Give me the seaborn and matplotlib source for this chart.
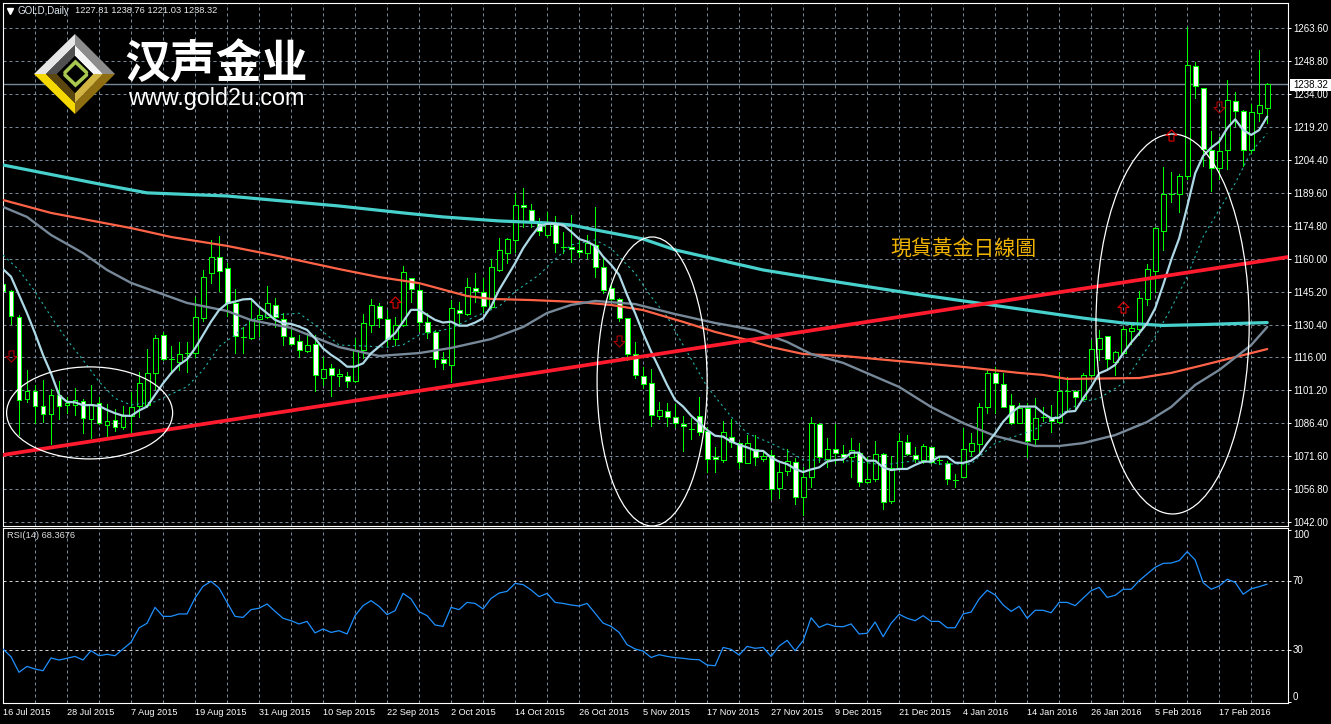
import numpy as np
import pandas as pd
import seaborn as sns
import matplotlib.pyplot as plt
from matplotlib.patches import Ellipse, Polygon, Rectangle

# Daily GOLD candles
opens = [
    1148.7,1145.4,1134.1,1097.3,1100.8,1094.1,1090.2,1099.1,1094.4,1094.6,
    1096.4,1088.0,1095.5,1085.6,1087.8,1084.7,1089.5,1094.1,1094.3,1108.6,
    1125.7,1115.1,1113.9,1117.6,1117.7,1133.6,1153.5,1160.8,1155.9,1140.3,
    1125.1,1124.6,1132.9,1134.1,1139.1,1133.2,1125.1,1123.3,1118.5,1121.6,
    1106.4,1110.9,1107.4,1107.6,1105.1,1119.0,1130.2,1138.7,1132.9,1124.2,
    1130.2,1151.3,1145.9,1131.8,1127.3,1114.9,1112.5,1137.2,1135.1,1146.8,
    1145.0,1138.3,1155.0,1162.8,1168.3,1184.0,1182.1,1176.7,1170.7,1175.7,
    1165.5,1165.5,1163.8,1162.8,1166.4,1156.2,1146.8,1141.9,1133.3,1117.5,
    1107.3,1104.2,1089.6,1091.6,1089.2,1085.9,1083.6,1089.3,1082.9,1070.9,
    1069.9,1080.2,1077.5,1068.5,1074.8,1070.3,1072.0,1057.3,1064.9,1068.7,
    1053.3,1062.2,1085.7,1070.3,1074.5,1072.3,1071.2,1072.9,1059.7,1061.1,
    1072.3,1051.5,1066.0,1078.0,1072.1,1069.7,1075.4,1069.7,1068.5,1060.8,
    1062.2,1073.6,1077.1,1093.7,1108.6,1103.7,1094.3,1086.5,1093.2,1079.0,
    1089.2,1088.4,1086.9,1100.8,1100.8,1097.3,1107.7,1119.4,1125.5,1113.9,
    1117.6,1127.8,1128.7,1141.8,1154.7,1172.7,1189.0,1189.0,1197.0,1246.4,
    1236.5,1208.7,1200.6,1208.7,1230.7,1226.2,1208.7,1225.3,1227.81]
highs = [
    1149.3,1146.0,1134.8,1110.1,1103.4,1105.6,1101.4,1105.2,1098.2,1102.0,
    1097.0,1103.4,1097.9,1094.7,1092.5,1094.0,1100.1,1109.2,1119.5,1125.7,
    1127.2,1120.9,1122.7,1122.8,1143.0,1155.0,1168.5,1170.3,1158.0,1146.3,
    1129.6,1141.1,1138.5,1147.8,1142.6,1135.6,1128.4,1125.8,1126.6,1125.8,
    1115.8,1112.8,1110.4,1109.1,1124.4,1135.3,1141.9,1140.1,1137.1,1134.1,
    1156.8,1151.3,1149.0,1135.6,1128.1,1118.4,1141.6,1140.8,1151.3,1153.5,
    1151.3,1160.1,1169.2,1169.2,1189.7,1191.7,1184.6,1178.2,1180.9,1179.0,
    1172.1,1179.6,1168.8,1170.7,1183.3,1160.3,1149.0,1142.3,1133.6,1122.6,
    1111.3,1110.4,1095.6,1095.2,1094.7,1089.5,1088.7,1098.2,1084.7,1075.7,
    1087.1,1088.1,1078.0,1080.8,1081.0,1074.2,1074.2,1068.5,1074.7,1070.5,
    1066.7,1089.2,1086.5,1079.5,1085.7,1076.3,1079.8,1077.4,1071.2,1078.1,
    1073.0,1071.5,1081.7,1081.0,1075.4,1076.9,1075.7,1071.5,1069.1,1063.3,
    1083.9,1082.0,1095.2,1110.1,1111.3,1108.6,1099.3,1095.2,1095.2,1097.4,
    1093.4,1094.4,1109.4,1107.1,1101.1,1108.9,1123.6,1128.1,1125.5,1118.6,
    1129.6,1130.3,1145.6,1157.7,1174.2,1201.4,1199.0,1198.1,1263.9,1248.2,
    1236.5,1217.4,1214.5,1240.3,1234.9,1226.8,1229.5,1253.7,1238.76]
lows = [
    1142.3,1130.6,1080.9,1095.9,1086.2,1086.8,1076.9,1088.3,1091.0,1089.8,
    1082.0,1079.8,1085.9,1080.6,1082.9,1083.5,1082.3,1089.2,1093.4,1101.4,
    1114.6,1109.4,1110.1,1109.4,1115.8,1132.3,1149.0,1145.7,1134.4,1117.6,
    1117.9,1123.9,1125.5,1133.3,1129.6,1121.3,1121.3,1115.8,1118.3,1100.8,
    1103.4,1098.5,1103.1,1102.4,1104.8,1115.4,1127.2,1129.3,1120.9,1121.4,
    1129.9,1140.4,1127.8,1124.4,1111.6,1110.7,1104.6,1130.3,1134.8,1140.8,
    1136.3,1137.8,1154.6,1158.0,1163.2,1174.2,1174.2,1170.7,1170.0,1163.2,
    1162.5,1158.6,1161.0,1160.2,1152.0,1144.5,1141.6,1132.1,1114.6,1106.4,
    1101.9,1085.2,1088.0,1085.0,1084.4,1073.8,1079.2,1081.1,1064.5,1064.5,
    1069.0,1075.7,1066.0,1068.5,1067.5,1069.4,1052.1,1052.7,1063.1,1050.0,
    1045.0,1057.8,1069.0,1066.4,1068.5,1069.0,1062.2,1058.2,1059.3,1060.3,
    1047.6,1050.6,1065.2,1072.0,1069.0,1068.5,1068.5,1067.9,1059.0,1057.6,
    1062.0,1071.5,1072.0,1090.7,1091.0,1093.4,1085.9,1086.2,1071.2,1076.9,
    1087.4,1082.4,1086.5,1092.2,1092.2,1096.7,1107.1,1114.6,1110.4,1107.9,
    1117.3,1121.8,1125.8,1139.3,1145.3,1164.0,1185.7,1181.2,1195.7,1232.2,
    1201.8,1190.5,1195.7,1200.5,1219.6,1201.8,1207.4,1222.0,1221.03]
closes = [
    1145.7,1134.4,1096.7,1100.8,1094.0,1090.2,1098.8,1094.0,1095.5,1096.8,
    1088.4,1095.0,1086.5,1087.4,1084.7,1089.5,1093.7,1104.1,1108.6,1124.3,
    1114.9,1115.1,1117.2,1117.6,1133.8,1151.7,1160.8,1154.7,1140.3,1125.2,
    1125.1,1133.2,1134.7,1140.0,1133.8,1125.4,1121.8,1119.1,1121.2,1107.7,
    1110.4,1107.7,1108.3,1105.1,1119.0,1131.1,1139.2,1133.3,1124.2,1130.2,
    1154.0,1146.3,1131.5,1127.0,1114.9,1113.1,1137.8,1135.6,1147.2,1145.4,
    1138.7,1156.2,1163.8,1168.8,1184.3,1183.1,1176.7,1172.4,1176.4,1167.0,
    1165.5,1164.3,1162.9,1167.0,1156.2,1145.9,1141.9,1133.3,1117.5,1107.7,
    1103.7,1089.8,1092.0,1089.2,1086.2,1084.8,1083.6,1082.4,1070.0,1070.2,
    1082.1,1078.0,1068.7,1077.4,1070.9,1071.7,1056.9,1064.2,1069.3,1053.3,
    1061.9,1086.2,1071.2,1074.5,1072.7,1071.2,1074.1,1059.7,1061.2,1072.3,
    1050.7,1066.1,1078.1,1072.3,1070.0,1076.0,1068.8,1069.7,1061.1,1060.8,
    1074.5,1077.2,1093.4,1108.6,1104.1,1093.7,1086.2,1093.2,1078.1,1088.4,
    1089.2,1087.1,1100.5,1100.8,1097.9,1107.7,1119.4,1124.6,1114.9,1118.0,
    1128.4,1128.8,1142.3,1155.3,1173.7,1189.1,1189.0,1197.0,1246.9,1237.7,
    1209.2,1200.6,1208.3,1231.1,1226.2,1208.7,1225.8,1228.9,1238.32]

# Fast moving average, one value per bar
ma_fast = [
    1155.4,1152.0,1143.8,1135.6,1126.6,1116.9,1108.6,1098.9,1095.8,1095.6,
    1094.3,1094.4,1094.0,1092.2,1090.7,1089.6,1089.5,1091.9,1093.7,1098.9,
    1104.1,1108.6,1112.4,1114.9,1119.8,1125.8,1131.8,1137.0,1140.0,1140.8,
    1141.8,1142.0,1138.5,1135.6,1132.6,1131.1,1130.8,1129.6,1128.1,1124.3,
    1119.8,1116.9,1114.6,1111.6,1111.6,1113.1,1117.6,1120.6,1123.6,1126.6,
    1131.8,1137.1,1137.1,1134.8,1132.6,1131.4,1131.8,1130.0,1130.0,1131.4,
    1133.3,1138.6,1146.0,1152.0,1158.0,1164.7,1170.0,1174.5,1175.7,1175.7,
    1175.2,1172.2,1168.9,1167.7,1165.8,1161.0,1157.3,1152.8,1143.8,1135.6,
    1126.6,1118.4,1110.9,1103.4,1096.7,1093.7,1089.6,1086.5,1083.2,1080.6,
    1080.2,1078.0,1076.5,1075.4,1073.9,1073.8,1070.8,1069.0,1067.9,1065.7,
    1064.3,1065.5,1066.4,1069.0,1069.7,1070.0,1073.0,1073.0,1069.4,1069.4,
    1066.4,1065.2,1065.7,1065.7,1067.5,1069.0,1069.0,1071.2,1071.2,1068.5,
    1068.4,1069.4,1072.0,1077.2,1081.7,1086.9,1090.7,1093.7,1093.7,1093.7,
    1090.7,1088.4,1088.7,1091.4,1091.7,1097.4,1102.6,1108.6,1110.1,1112.4,
    1117.6,1122.4,1126.6,1131.1,1137.8,1148.3,1159.5,1169.2,1183.4,1198.4,
    1206.2,1209.9,1212.6,1218.6,1222.6,1217.8,1215.6,1217.8,1223.8]

# Slower lines, read at the bars where they bend
cyan_bars = [0,12,18,28,42,50,55,62,68,71,74,80,84,95,105,114,121,127,135,140,145,150,158]
cyan_vals = [1202.1,1193.6,1189.6,1188.2,1183.7,1180.6,1178.8,1177.0,1176.1,1175.2,1173.0,
             1168.9,1164.0,1155.0,1149.2,1144.2,1140.6,1137.5,1133.4,1131.2,1130.1,1130.5,1131.4]
orange_bars = [0,6,12,16,21,28,35,42,47,52,58,61,66,72,76,80,85,89,93,96,100,105,112,120,
               127,130,133,142,146,150,154,158]
orange_vals = [1186.4,1180.6,1176.5,1173.8,1169.8,1165.8,1160.8,1155.4,1151.8,1149.1,1143.3,
               1142.0,1141.5,1140.6,1139.3,1137.0,1131.7,1127.2,1123.6,1120.4,1117.3,1116.4,
               1114.1,1111.5,1108.8,1107.9,1106.1,1106.5,1108.8,1112.3,1115.9,1119.5]
grey_bars = [0,3,6,10,13,16,23,28,31,36,42,47,52,56,61,65,68,71,74,79,84,89,94,98,101,105,
             112,116,120,124,127,129,132,135,139,143,146,149,152,156,158]
grey_vals = [1183.3,1178.8,1170.7,1162.6,1155.0,1149.2,1140.2,1136.6,1132.5,1129.0,1120.4,
             1116.4,1117.7,1120.0,1124.0,1129.4,1135.7,1139.3,1141.1,1139.7,1135.2,1131.2,
             1128.0,1122.7,1117.3,1113.3,1102.5,1093.5,1086.3,1080.5,1077.8,1076.0,1076.0,
             1077.3,1080.9,1086.8,1093.5,1103.4,1110.1,1121.3,1129.4]
dotted_bars = [0,2,4,6,8,10,12,14,16,19,21,23,25,27,29,31,33,37,39,42,45,48,50,52,56,59,62,
               64,67,69,71,74,76,79,81,83,85,88,91,93,96,99,100,104,107,110,114,117,121,122,
               124,127,129,131,135,137,140,142,144,146,148,150,152,154,156,158]
dotted_vals = [1161.7,1155.0,1145.3,1134.1,1123.6,1114.6,1104.9,1097.4,1094.4,1095.9,1099.3,
               1102.6,1110.1,1120.6,1125.8,1132.6,1134.5,1135.6,1130.3,1121.3,1120.9,1120.3,
               1121.4,1125.8,1128.8,1134.1,1138.6,1145.3,1152.8,1159.8,1166.2,1168.5,1164.7,
               1153.5,1143.0,1134.1,1121.3,1102.6,1089.2,1081.7,1077.2,1072.0,1069.7,1069.7,
               1069.0,1067.5,1069.4,1067.9,1067.9,1071.2,1077.2,1081.0,1083.5,1088.0,1095.9,
               1097.4,1104.1,1114.6,1125.1,1137.8,1152.0,1170.0,1182.0,1193.9,1208.1,1216.3]

trend_bars = [0, 160.6]
trend_vals = [1072.0, 1160.8]

rsi_vals = [
    30.8,26.3,17.3,20.7,19.2,18.2,25.6,24.4,25.4,26.5,
    24.4,29.8,26.9,27.7,26.9,30.8,34.6,43.0,45.7,54.9,
    49.7,49.7,51.1,51.1,60.3,67.1,70.0,66.1,57.8,49.7,
    49.1,53.6,54.4,56.9,52.6,48.6,47.2,45.3,46.8,40.1,
    42.4,40.4,41.4,39.5,50.1,55.9,58.8,55.5,50.7,53.0,
    63.0,59.8,52.4,50.1,44.7,43.9,54.9,53.6,57.8,57.2,
    54.0,60.1,63.2,64.2,68.8,68.1,65.0,61.1,63.0,57.8,
    57.2,56.3,55.7,57.2,51.5,45.8,43.9,40.4,33.3,30.8,
    29.6,25.9,27.5,26.5,25.8,25.4,24.8,24.6,21.5,21.1,
    31.7,30.6,27.3,32.3,31.2,31.7,26.5,32.5,35.8,29.8,
    35.6,48.9,43.3,45.3,43.9,43.7,45.3,39.5,39.9,46.4,
    37.9,45.7,50.9,48.6,47.2,50.1,46.8,46.8,43.1,43.1,
    51.1,52.2,59.8,64.8,62.1,56.3,52.6,55.5,48.6,53.2,
    53.2,51.8,57.8,57.8,55.9,60.3,64.6,66.5,60.7,61.9,
    65.4,65.4,70.4,74.3,78.1,80.4,80.6,82.0,87.2,82.4,
    69.2,65.4,67.3,71.2,69.4,62.5,65.7,66.9,68.37]

price_ticks = [1263.6,1248.8,1234.0,1219.2,1204.4,1189.6,1174.8,1160.0,1145.2,1130.4,
               1116.0,1101.2,1086.4,1071.6,1056.8,1042.0]
date_labels = ['16 Jul 2015','28 Jul 2015','7 Aug 2015','19 Aug 2015','31 Aug 2015','10 Sep 2015',
               '22 Sep 2015','2 Oct 2015','14 Oct 2015','26 Oct 2015','5 Nov 2015','17 Nov 2015',
               '27 Nov 2015','9 Dec 2015','21 Dec 2015','4 Jan 2016','14 Jan 2016','26 Jan 2016',
               '5 Feb 2016','17 Feb 2016']

# signal arrows (bar, price)
up_bars, up_prices = [49, 140, 146], [1140.6, 1138.4, 1215.6]
down_bars, down_prices = [1, 77, 152], [1116.4, 1123.1, 1228.1]

# the three hand drawn ellipses: bar range and price range
ellipse_bars = [(0.45, 21.2), (74.25, 88.0), (136.6, 155.75)]
ellipse_prices = [(1070.2, 1111.5), (1040.1, 1169.8), (1045.5, 1216.0)]

GREEN = '#00ff00'
GRID = '#778899'

sns.set_style('dark', {'axes.facecolor': 'black', 'figure.facecolor': 'black'})
plt.rcParams['font.family'] = ['Liberation Sans', 'Noto Sans CJK SC', 'DejaVu Sans']

W, H = 1331, 724
fig = plt.figure(figsize=(W / 100, H / 100), dpi=100, facecolor='black')
ax = fig.add_axes([3 / W, 1 - 526 / H, 1285 / W, 523 / H])
ax_rsi = fig.add_axes([3 / W, 1 - 703 / H, 1285 / W, 175 / H])

bars = np.arange(len(closes))
candles = pd.DataFrame({'bar': bars, 'o': opens, 'h': highs, 'l': lows, 'c': closes})
candles['top'] = candles[['o', 'c']].max(axis=1)
candles['bottom'] = candles[['o', 'c']].min(axis=1)
fills = np.where(candles['c'] > candles['o'], 'black', 'white')

# Candles
ax.vlines(candles['bar'], candles['l'], candles['h'], color=GREEN, lw=0.72, zorder=2, antialiased=False)
ax.bar(candles['bar'], candles['top'] - candles['bottom'], bottom=candles['bottom'], width=0.62,
       color=fills, edgecolor=GREEN, linewidth=0.72, zorder=2.5, antialiased=False)

# Indicator lines
sns.lineplot(x=dotted_bars, y=dotted_vals, ax=ax, color='#20b2aa', lw=0.8, linestyle=(0, (2, 3)), zorder=3)
sns.lineplot(x=cyan_bars, y=cyan_vals, ax=ax, color='#48d1cc', lw=2.3, zorder=3)
sns.lineplot(x=orange_bars, y=orange_vals, ax=ax, color='#ff6347', lw=1.6, zorder=3)
sns.lineplot(x=grey_bars, y=grey_vals, ax=ax, color='#778899', lw=1.7, zorder=3)
sns.lineplot(x=bars, y=ma_fast, ax=ax, color='#add8e6', lw=1.6, zorder=3.2)
sns.lineplot(x=trend_bars, y=trend_vals, ax=ax, color='#ff1a2e', lw=2.7, zorder=3.4)

for (b0, b1), (p0, p1) in zip(ellipse_bars, ellipse_prices):
    ax.add_patch(Ellipse(((b0 + b1) / 2, (p0 + p1) / 2), b1 - b0, p1 - p0, fill=False,
                         edgecolor='white', lw=0.9, zorder=3.6))

up_arrow = [(-.22, -.5), (.22, -.5), (.22, 0), (.5, 0), (0, .5), (-.5, 0), (-.22, 0), (-.22, -.5)]
down_arrow = [(x, -y) for x, y in up_arrow]
ax.plot(up_bars, up_prices, ls='none', marker=up_arrow, ms=8, mfc='none', mec='#e00000', mew=0.8, zorder=4)
ax.plot(down_bars, down_prices, ls='none', marker=down_arrow, ms=8, mfc='none', mec='#a80000', mew=0.8, zorder=4)

ax.axhline(closes[-1], color=GRID, lw=1, zorder=1.5)
ax.text(110.9, 1164.4, '現貨黃金日線圖', color='#f0b400', fontsize=15, va='center',
        family=['Noto Sans CJK TC', 'DejaVu Sans'], zorder=4)

# RSI panel
sns.lineplot(x=bars, y=rsi_vals, ax=ax_rsi, color='#1e90ff', lw=0.9, zorder=3)
for level in (70, 30):
    ax_rsi.axhline(level, color='#d0d0d0', lw=0.72, ls=(0, (3, 3)), zorder=1.5)

# Axes, scales and grid
for a in (ax, ax_rsi):
    a.set_facecolor('black')
    a.set_xlim(0, 160.6)
    a.set_xlabel('')
    a.set_ylabel('')
    a.set_xticks(np.arange(0, 160, 8))
    a.set_xticks(np.arange(4, 161, 8), minor=True)
    a.grid(True, which='both', axis='x', color=GRID, lw=0.72, ls=(0, (3, 3)))
    a.set_axisbelow(True)
    a.yaxis.tick_right()
    a.tick_params(axis='y', colors='white', length=2, width=0.72, labelsize=7, pad=1.5)
    a.tick_params(axis='x', which='minor', length=0)
    for s in a.spines.values():
        s.set_color('white')
        s.set_linewidth(0.8)
        s.set_visible(True)

ax.set_ylim(1040.1, 1274.8)
ax.set_yticks(price_ticks)
ax.set_yticklabels(['%.2f' % p for p in price_ticks])
ax.grid(True, axis='y', color=GRID, lw=0.72, ls=(0, (3, 3)))
ax.tick_params(axis='x', length=0, labelbottom=False)

ax_rsi.set_ylim(-0.5, 100.9)
ax_rsi.set_yticks([100, 70, 30, 0])
ax_rsi.set_yticklabels(['100', '70', '30', '0'])
for lab, va in zip(ax_rsi.get_yticklabels(), ['top', 'center', 'center', 'bottom']):
    lab.set_va(va)
ax_rsi.tick_params(axis='x', which='major', colors='white', length=2, width=0.72, labelsize=6.6, pad=1.5)
ax_rsi.set_xticklabels(date_labels, ha='left')

# Overlay in picture pixels: header, last price tag and logo
over = fig.add_axes([0, 0, 1, 1], zorder=10)
over.set_xlim(0, W)
over.set_ylim(H, 0)
over.axis('off')
over.patch.set_alpha(0)

over.plot([9.5], [11], marker='v', color='white', ms=4.5, ls='none')
over.text(18, 10.5, 'GOLD,Daily', color='#dfe8f0', fontsize=7, va='center')
over.text(75, 10.5, '1227.81 1238.76 1221.03 1238.32', color='#e8e8e8', fontsize=6.7, va='center')
over.text(7, 536, 'RSI(14) 68.3676', color='#e0e0e0', fontsize=6.7, va='center')

over.add_patch(Rectangle((1290, 78.5), 41, 12, color='white', lw=0))
over.text(1293, 84.5, '1238.32', color='black', fontsize=7, va='center')

logo = [
    ([(34, 74), (75, 34), (75, 45), (46, 74)], '#e6e6e6'),
    ([(75, 34), (115, 74), (103, 74), (75, 45)], '#8c8c8c'),
    ([(46, 74), (75, 45), (75, 56), (57, 74)], '#505050'),
    ([(75, 45), (103, 74), (93, 74), (75, 56)], '#f4f4f4'),
    ([(34, 74), (75, 114), (75, 103), (46, 74)], '#f4d800'),
    ([(115, 74), (75, 114), (75, 103), (103, 74)], '#8f6e12'),
    ([(46, 74), (75, 103), (75, 93), (57, 74)], '#5c4610'),
    ([(103, 74), (75, 103), (75, 93), (93, 74)], '#d2b443'),
    ([(57, 74), (75, 56), (93, 74), (75, 93)], '#000000'),
]
for pts, col in logo:
    over.add_patch(Polygon(pts, closed=True, color=col, lw=0))
over.plot([65, 75.5, 86.5], [72.5, 62, 72.5], color='#a8c850', lw=2.6, solid_joinstyle='miter')
over.plot([65, 75.5, 86.5], [75, 85, 75], color='#a8c850', lw=2.6, solid_joinstyle='miter')

over.text(216.5, 65, '汉声金业', color='white', fontsize=33, fontweight='bold', ha='center', va='center',
          family=['Noto Sans CJK SC', 'DejaVu Sans'])
over.text(128, 99, 'www.gold2u.com', color='white', fontsize=16.8, va='center', family='Liberation Sans')

fig.savefig('out.png', dpi=100, facecolor='black')
